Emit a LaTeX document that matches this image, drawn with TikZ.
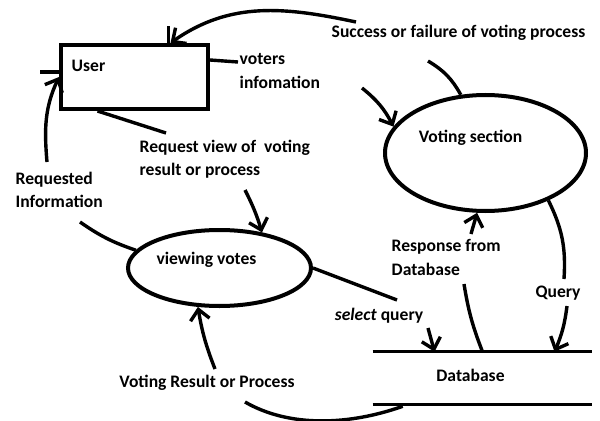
\documentclass[tikz,border=0pt]{standalone}
\usepackage{fontspec}
\setmainfont{Carlito}
\usetikzlibrary{positioning,arrows.meta,shapes.geometric,calc}
\newdimen\pxu \pxu=0.025cm
\tikzset{
  ent/.style={draw, line width=1mm, rectangle, inner sep=0pt},
  proc/.style={draw, line width=1mm, ellipse, inner sep=0pt},
  wire/.style={line width=0.85mm},
  flow/.style={line width=0.85mm, -{Straight Barb[length=2.6mm,width=4.8mm]}},
  lbl/.style={font=\bfseries\fontsize{12.5}{17}\selectfont, align=left, inner sep=1pt}
}

\begin{document}
\begin{tikzpicture}[x=1\pxu, y=-1\pxu]
    \useasboundingbox (0,0) rectangle (600,421);

    \node[ent, minimum width=147\pxu, minimum height=64\pxu,
      label={[lbl, anchor=west, xshift=11\pxu, yshift=-23\pxu]north west:User}] (user) at (134.5,77) {};
    \node[proc, minimum width=201\pxu, minimum height=116\pxu,
      label={[lbl, xshift=-15\pxu, yshift=15\pxu]center:Voting section}] (vote) at (485.5,153) {};
    \node[proc, minimum width=183\pxu, minimum height=76\pxu,
      label={[lbl, xshift=-13\pxu, yshift=8\pxu]center:viewing votes}] (view) at (219.5,268) {};
    \node[minimum width=219\pxu, minimum height=52\pxu,
      label={[lbl, xshift=-12\pxu, yshift=3\pxu]center:Database}] (db) at (482.5,378) {};

    \node[lbl, anchor=west] (succ) at (330,33) {Success or failure of voting process};
    \node[lbl, anchor=north west] (voters) at (238,52) {voters\\infomation};
    \node[lbl, anchor=north west] (reqv) at (138,138) {Request view of \ voting\\result or process};
    \node[lbl, anchor=north west] (reqi) at (14,170) {Requested\\Information};
    \node[lbl] (sel) at (379,316) {\textit{select} query};
    \node[lbl, anchor=north west] (resp) at (390,238) {Response from\\Database};
    \node[lbl] (qry) at (558,293) {Query};
    \node[lbl] (res) at (207,383) {Voting Result or Process};

    \coordinate (s1) at (428,61);
    \coordinate (s2) at (356,22);
    \coordinate (v1) at (362,88);
    \coordinate (r1) at (245,190);
    \coordinate (i1) at (80,222);
    \coordinate (i2) at (47,162);
    \coordinate (q1) at (397,300);
    \coordinate (q2) at (428,328);
    \coordinate (p1) at (464,284);
    \coordinate (p2) at (471,234);
    \coordinate (k1) at (564,279);
    \coordinate (k2) at (567,306);
    \coordinate (e1) at (245,402);
    \coordinate (e2) at (215,369);

    \draw[wire] (db.north west) -- (db.north east);
    \draw[wire] (db.south west) -- (db.south east);

    \draw[wire] (vote.113) to[bend right=15] (s1);
    \draw[flow] (s2) to[out=168, in=35] ([xshift=36\pxu]user.north);
    \draw[wire] ([xshift=34\pxu]user.north) -- ++(0,-17);

    \draw[wire] ([yshift=-17\pxu]user.north east) -- ([yshift=-10\pxu]voters.north west);
    \draw[flow] (v1) to[bend left=12] (vote.164);

    \draw[wire] ([xshift=-37\pxu]user.south) -- ([xshift=28\pxu, yshift=5\pxu]reqv.north west);
    \draw[flow] (r1) to[bend left=5] (view.40);

    \draw[wire] (view.168) to[bend left=8] (i1);
    \draw[flow] (i2) to[out=95, in=-115] (user.west);
    \draw[wire] ([yshift=5\pxu]user.west) -- ++(-19,0);

    \draw[wire] (view.east) -- (q1);
    \draw[flow] (q2) -- ([xshift=-48\pxu]db.north);

    \draw[wire] (db.north) to[bend left=6] (p1);
    \draw[flow] (p2) -- (vote.262);

    \draw[wire] (vote.323) to[bend left=15] (k1);
    \draw[flow] (k2) to[bend left=8] ([xshift=72\pxu]db.north);

    \draw[wire] ([xshift=30\pxu, yshift=-2\pxu]db.south west) .. controls (350,425) and (290,428) .. (e1);
    \draw[flow] (e2) to[bend left=6] (view.241);
\end{tikzpicture}
\end{document}
